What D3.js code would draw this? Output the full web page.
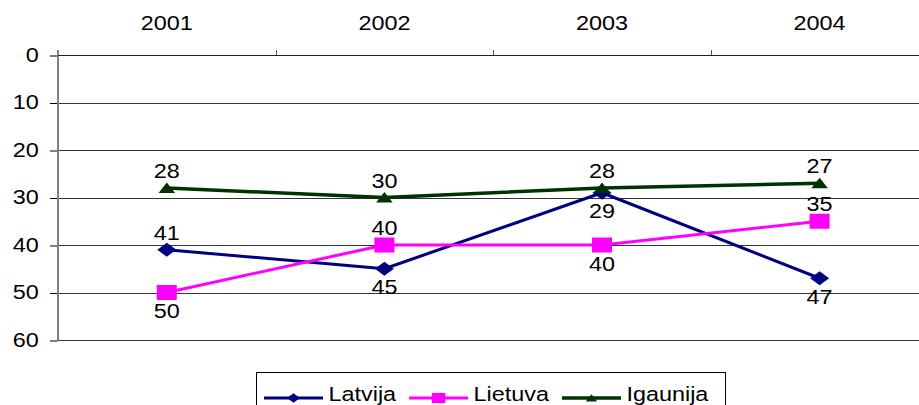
<!DOCTYPE html>
<html><head><meta charset="utf-8">
<script src="https://cdn.jsdelivr.net/npm/d3@7"></script>
<style>
body{margin:0;background:#fff;}
svg{display:block;}
text{font-family:"Liberation Sans",Arial,sans-serif;font-size:19.5px;fill:#000;}
</style>
</head><body>
<svg id="c" width="919" height="405"></svg>
<script>
// ---- data ----
const years = ["2001","2002","2003","2004"];
const latvija = [41,45,29,47];
const lietuva = [50,40,40,35];
const igaunija = [28,30,28,27];
const yTicks = [0,10,20,30,40,50,60];
const seriesNames = ["Latvija","Lietuva","Igaunija"];

// ---- drawing ----
const SX = 1.2; // horizontal text stretch of the reference
const FS = "19.5px";
const svg = d3.select("#c");
const x = d3.scaleBand().domain(years).range([58, 928.4]).padding(0);
const y = d3.scaleLinear().domain([0,60]).range([55,340]);
const bw = x.bandwidth();
const cx = d => x(d) + bw/2;

const series = [
  {name: seriesNames[0], values: latvija, color:"#000080", width:3, marker:"diamond",
   side:["above","below","below","below"]},
  {name: seriesNames[1], values: lietuva, color:"#ff00ff", width:3, marker:"square",
   side:["below","above","below","above"]},
  {name: seriesNames[2], values: igaunija, color:"#003300", width:3.5, marker:"triangle",
   side:["above","above","above","above"]}
];

// gridlines
svg.append("g").selectAll("line").data(yTicks.slice(1)).join("line")
  .attr("x1",58).attr("x2",930)
  .attr("y1",d=>Math.round(y(d))+0.5).attr("y2",d=>Math.round(y(d))+0.5)
  .attr("stroke","#333").attr("stroke-width",1);

// left axis
const ya = svg.append("g").attr("transform","translate(58,0)")
  .call(d3.axisLeft(y).tickValues(yTicks).tickSize(8).tickSizeOuter(0));
ya.select(".domain").remove();
ya.selectAll(".tick line").attr("stroke","#000").attr("stroke-width",1)
  .attr("transform","translate(0,0.5)");
ya.selectAll(".tick text").attr("font-size",null).attr("font-family",null)
  .attr("x",-19.3/SX).attr("dy","0.32em")
  .attr("transform",`scale(${SX},1)`).style("font-size",FS);
svg.append("line").attr("x1",58).attr("x2",58).attr("y1",50).attr("y2",340.5)
  .attr("stroke","#808080").attr("stroke-width",2);

// top axis
const xa = svg.append("g").attr("transform","translate(0,55.5)")
  .call(d3.axisTop(x).tickSize(0).tickPadding(25.5).tickSizeOuter(0));
xa.select(".domain").attr("stroke","#222").attr("stroke-width",1)
  .attr("d","M58,0H930");
xa.selectAll(".tick text").attr("font-size",null).attr("font-family",null)
  .attr("transform",`scale(${SX},1)`).style("font-size",FS);
const bounds = years.map(d=>x(d)).concat([x.range()[1]]);
svg.append("g").selectAll("line").data(bounds.slice(1)).join("line")
  .attr("x1",d=>Math.round(d)+0.5).attr("x2",d=>Math.round(d)+0.5)
  .attr("y1",50).attr("y2",55).attr("stroke","#555").attr("stroke-width",1);

// marker shapes
function drawMarker(g, type, color, scale){
  const s = scale || 1;
  if(type==="diamond"){
    g.append("path").attr("d",`M${-9.5*s},0L0,${-7*s}L${9.5*s},0L0,${7*s}Z`).attr("fill",color);
  } else if(type==="square"){
    g.append("rect").attr("x",-10*s).attr("y",-7.5*s).attr("width",20*s).attr("height",15*s).attr("fill",color);
  } else {
    g.append("path").attr("d",`M0,${-5.6*s}L${8.3*s},${5*s}L${-8.3*s},${5*s}Z`).attr("fill",color);
  }
}

const line = d3.line().x((d,i)=>cx(years[i])).y(d=>y(d));
const plot = svg.append("g");
series.forEach(s=>{
  plot.append("path").datum(s.values).attr("d",line)
    .attr("fill","none").attr("stroke",s.color).attr("stroke-width",s.width)
    .attr("stroke-linejoin","round");
});
series.forEach(s=>{
  s.values.forEach((v,i)=>{
    const g = plot.append("g").attr("transform",`translate(${cx(years[i])},${y(v)})`);
    drawMarker(g, s.marker, s.color);
  });
});
// data labels
series.forEach(s=>{
  s.values.forEach((v,i)=>{
    const dy = s.side[i]==="above" ? -10 : 25.5;
    svg.append("text")
      .attr("transform",`translate(${cx(years[i])},${y(v)+dy}) scale(${SX},1)`)
      .attr("text-anchor","middle").text(v);
  });
});

// legend
const lg = svg.append("g");
lg.append("rect").attr("x",256.5).attr("y",372.5).attr("width",469).attr("height",45)
  .attr("fill","#fff").attr("stroke","#000").attr("stroke-width",1);
let lx = 264;
const ly = 398;
series.forEach(s=>{
  lg.append("line").attr("x1",lx).attr("x2",lx+59).attr("y1",ly).attr("y2",ly)
    .attr("stroke",s.color).attr("stroke-width",s.width);
  const mg = lg.append("g").attr("transform",`translate(${lx+29.5},${ly})`);
  drawMarker(mg, s.marker, s.color, 0.68);
  const t = lg.append("text").attr("transform",`translate(${lx+64.5},${ly+2.5}) scale(${SX},1)`).text(s.name);
  const w = t.node().getComputedTextLength()*SX;
  lx = lx + 64.5 + w + 13;
});
</script>
</body></html>
